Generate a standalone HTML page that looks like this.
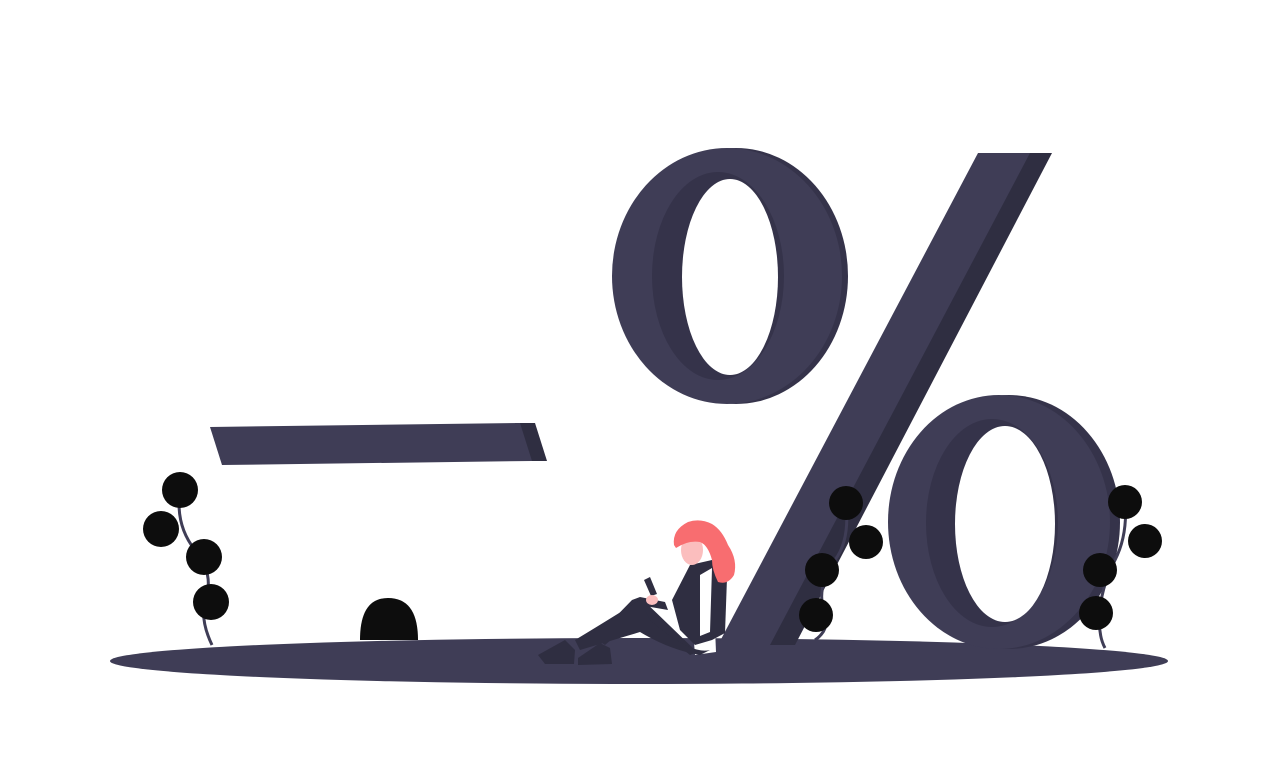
<!DOCTYPE html>
<html><head><meta charset="utf-8"><style>
html,body{margin:0;padding:0;background:#fff;width:1280px;height:762px;overflow:hidden}
</style></head><body>
<svg width="1280" height="762" viewBox="0 0 1280 762" xmlns="http://www.w3.org/2000/svg">
<g>
<ellipse cx="639" cy="661" rx="529" ry="23" fill="#3f3d56"/>
</g>
<g>
<polygon points="515,423 535,423 547,461 527,461" fill="#2f2e41"/>
<polygon points="210,427 520,423 532,461 222,465" fill="#3f3d56"/>
</g>
<g>
<ellipse cx="736" cy="276" rx="112" ry="128" fill="#35334a"/>
<ellipse cx="727" cy="276" rx="115" ry="128" fill="#3f3d56"/>
<ellipse cx="718" cy="276" rx="66" ry="104" fill="#35334a"/>
<ellipse cx="730" cy="277" rx="48" ry="98" fill="#fff"/>
<polygon points="1018,153 1052,153 795,645 760,645" fill="#2f2e41"/>
<polygon points="978,153 1030,153 770,645 718,645" fill="#3f3d56"/>
<ellipse cx="1009" cy="522" rx="111" ry="127" fill="#35334a"/>
<ellipse cx="999" cy="522" rx="111" ry="127" fill="#3f3d56"/>
<ellipse cx="992" cy="523" rx="66" ry="104" fill="#35334a"/>
<ellipse cx="1005" cy="524" rx="50" ry="98" fill="#fff"/>
</g>
<g>
<path d="M693,630 L715,628 L716,652 L695,655 Z" fill="#fff"/>
<path d="M690,565 L712,560 L727,578 L725,633 L712,640 L695,645 L680,630 L672,600 Z" fill="#2f2e41"/>
<path d="M700,575 L712,568 L710,632 L700,636 Z" fill="#fff"/>
<path d="M697,652 L640,597 L632,600 L595,638 L605,645 L640,615 L690,655 Z" fill="#2f2e41"/>
<path d="M710,650 Q690,655 650,620 L640,600 Q600,625 575,640 L580,650 L640,632 Q670,650 700,655 Z" fill="#2f2e41"/>
<path d="M538,655 L565,640 L575,650 L574,664 L545,664 Z" fill="#2f2e41"/>
<path d="M578,658 L600,643 L610,648 L612,664 L578,665 Z" fill="#2f2e41"/>
<path d="M644,580 L650,577 L657,594 L651,596 Z" fill="#2f2e41"/>
<path d="M640,597 L665,602 L668,610 L645,606 Z" fill="#2f2e41"/>
<ellipse cx="652" cy="600" rx="6" ry="5" fill="#fbbebe"/>
<ellipse cx="692" cy="550" rx="11" ry="15" fill="#fbbebe"/>
<path d="M674,545 Q672,530 688,522 Q700,518 712,524 Q722,530 728,545 Q738,560 734,575 Q728,585 718,582 Q712,570 712,560 Q708,545 700,542 Q688,540 676,548 Z" fill="#f86d70"/>
</g>
<g>
<path d="M360,640 Q360,598 388,598 Q418,598 418,640 Z" fill="#0d0d0d"/>
</g>
<g fill="#0d0d0d" stroke="#3f3d56" stroke-width="3">
<path d="M180,490 Q175,525 195,550 Q215,575 205,600 Q200,620 212,645" fill="none"/>
<circle cx="180" cy="490" r="18" stroke="none"/><circle cx="161" cy="529" r="18" stroke="none"/>
<circle cx="204" cy="557" r="18" stroke="none"/><circle cx="211" cy="602" r="18" stroke="none"/>
</g>
<g fill="#0d0d0d" stroke="#3f3d56" stroke-width="3">
<path d="M846,503 Q850,540 835,560 Q815,590 825,612 Q830,630 815,640" fill="none"/>
<circle cx="846" cy="503" r="17" stroke="none"/><circle cx="866" cy="542" r="17" stroke="none"/>
<circle cx="822" cy="570" r="17" stroke="none"/><circle cx="816" cy="615" r="17" stroke="none"/>
</g>
<g fill="#0d0d0d" stroke="#3f3d56" stroke-width="3">
<path d="M1125,500 Q1128,535 1115,560 Q1100,590 1100,615 Q1098,635 1105,648" fill="none"/>
<circle cx="1125" cy="502" r="17" stroke="none"/><circle cx="1145" cy="541" r="17" stroke="none"/>
<circle cx="1100" cy="570" r="17" stroke="none"/><circle cx="1096" cy="613" r="17" stroke="none"/>
</g>
</svg>
</body></html>
